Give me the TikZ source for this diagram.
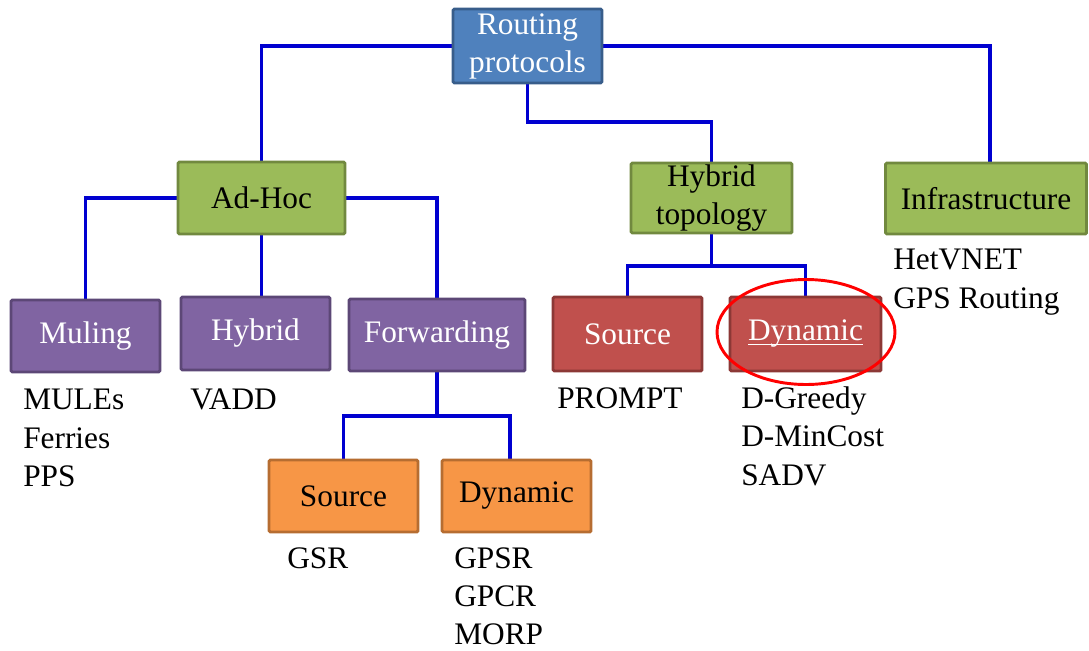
\documentclass[tikz,border=0pt]{standalone}
\usepackage{fontspec}
\setmainfont{Liberation Serif}
\usetikzlibrary{shapes.geometric}
\definecolor{blueF}{HTML}{4F81BD}\definecolor{blueD}{HTML}{385D8A}
\definecolor{greenF}{HTML}{9BBB59}\definecolor{greenD}{HTML}{71893F}
\definecolor{purpleF}{HTML}{8064A2}\definecolor{purpleD}{HTML}{5C4776}
\definecolor{redF}{HTML}{C0504D}\definecolor{redD}{HTML}{8C3836}
\definecolor{orangeF}{HTML}{F79646}\definecolor{orangeD}{HTML}{B66D31}
\definecolor{lineblue}{HTML}{0000D0}
\pgfdeclarelayer{background}
\pgfsetlayers{background,main}
\begin{document}
\begin{tikzpicture}[x=0.75pt,y=-0.75pt,
  box/.style={line width=2.2pt, rounded corners=1pt, inner sep=0pt, align=center,
    font=\fontsize{23.5}{28.5}\selectfont},
  bluebox/.style={box, fill=blueF, draw=blueD, text=white},
  greenbox/.style={box, fill=greenF, draw=greenD, text=black},
  purplebox/.style={box, fill=purpleF, draw=purpleD, text=white},
  redbox/.style={box, fill=redF, draw=redD, text=white},
  orangebox/.style={box, fill=orangeF, draw=orangeD, text=black},
  conn/.style={draw=lineblue, line width=2.6pt},
  lbl/.style={anchor=north west, inner sep=0pt, align=left,
    font=\fontsize{23.5}{28.8}\selectfont}]
\useasboundingbox (0,0) rectangle (1089,650);

% boxes
\node[bluebox, minimum width=111.75pt, minimum height=55.5pt] (route) at (527.5,46) {Routing\\protocols};
\node[greenbox, minimum width=125.25pt, minimum height=54pt] (adhoc) at (261.5,198) {Ad-Hoc};
\node[greenbox, minimum width=120.75pt, minimum height=52.5pt] (hybtop) at (711.5,198) {Hybrid\\topology};
\node[greenbox, minimum width=150.75pt, minimum height=53.25pt] (infra) at (986,198.5) {Infrastructure};
\node[purplebox, minimum width=111.75pt, minimum height=54pt] (muling) at (85.5,336) {Muling};
\node[purplebox, minimum width=111.75pt, minimum height=54.75pt] (hybrid) at (255.5,333.5) {Hybrid};
\node[purplebox, minimum width=132pt, minimum height=54pt] (fwd) at (437,335) {Forwarding};
\node[redbox, minimum width=111.75pt, minimum height=55.5pt] (rsrc) at (627.5,334) {Source};
\node[redbox, minimum width=113.25pt, minimum height=55.5pt] (rdyn) at (805.5,334) {\rlap{\rule[-3pt]{86pt}{1pt}}Dynamic};
\node[orangebox, minimum width=111.75pt, minimum height=54pt] (osrc) at (343.5,496) {Source};
\node[orangebox, minimum width=111.75pt, minimum height=54pt] (odyn) at (516.5,496) {Dynamic};

% highlight ellipse
\node[ellipse, draw=red, line width=2.2pt, minimum width=133.5pt, minimum height=78.75pt, inner sep=0pt] (hl) at (806,332) {};

% junction coordinates
\coordinate (infratop) at (990,162);
\coordinate (rj) at (620,122);
\coordinate (hj) at (711.5,266);
\coordinate (fj) at (437,416);
\coordinate (odtop) at (510,459);

% connectors
\begin{pgfonlayer}{background}
\draw[conn] (route.west) -| (adhoc.north);
\draw[conn] (route.east) -| (infratop);
\draw[conn] (route.south) |- (rj) -| (hybtop.north);
\draw[conn] (adhoc.west) -| (muling.north);
\draw[conn] (adhoc.south) -- (adhoc.south |- hybrid.north);
\draw[conn] (adhoc.east) -| (fwd.north);
\draw[conn] (hybtop.south) -- (hj);
\draw[conn] (hj) -| (rsrc.north);
\draw[conn] (hj) -| (rdyn.north);
\draw[conn] (fwd.south) -- (fj);
\draw[conn] (fj) -| (osrc.north);
\draw[conn] (fj) -| (odtop);
\end{pgfonlayer}

% lists
\node[lbl] (lmul) at (23,389) {MULEs\\Ferries\\PPS};
\node[lbl] (lhyb) at (190,389) {VADD};
\node[lbl] (lrsrc) at (557,387) {PROMPT};
\node[lbl] (lrdyn) at (741,386.5) {D-Greedy\\D-MinCost\\SADV};
\node[lbl] (linfra) at (893,249) {HetVNET\\GPS Routing};
\node[lbl] (losrc) at (287,547) {GSR};
\node[lbl] (lodyn) at (454,547) {GPSR\\GPCR\\MORP};
\end{tikzpicture}
\end{document}
